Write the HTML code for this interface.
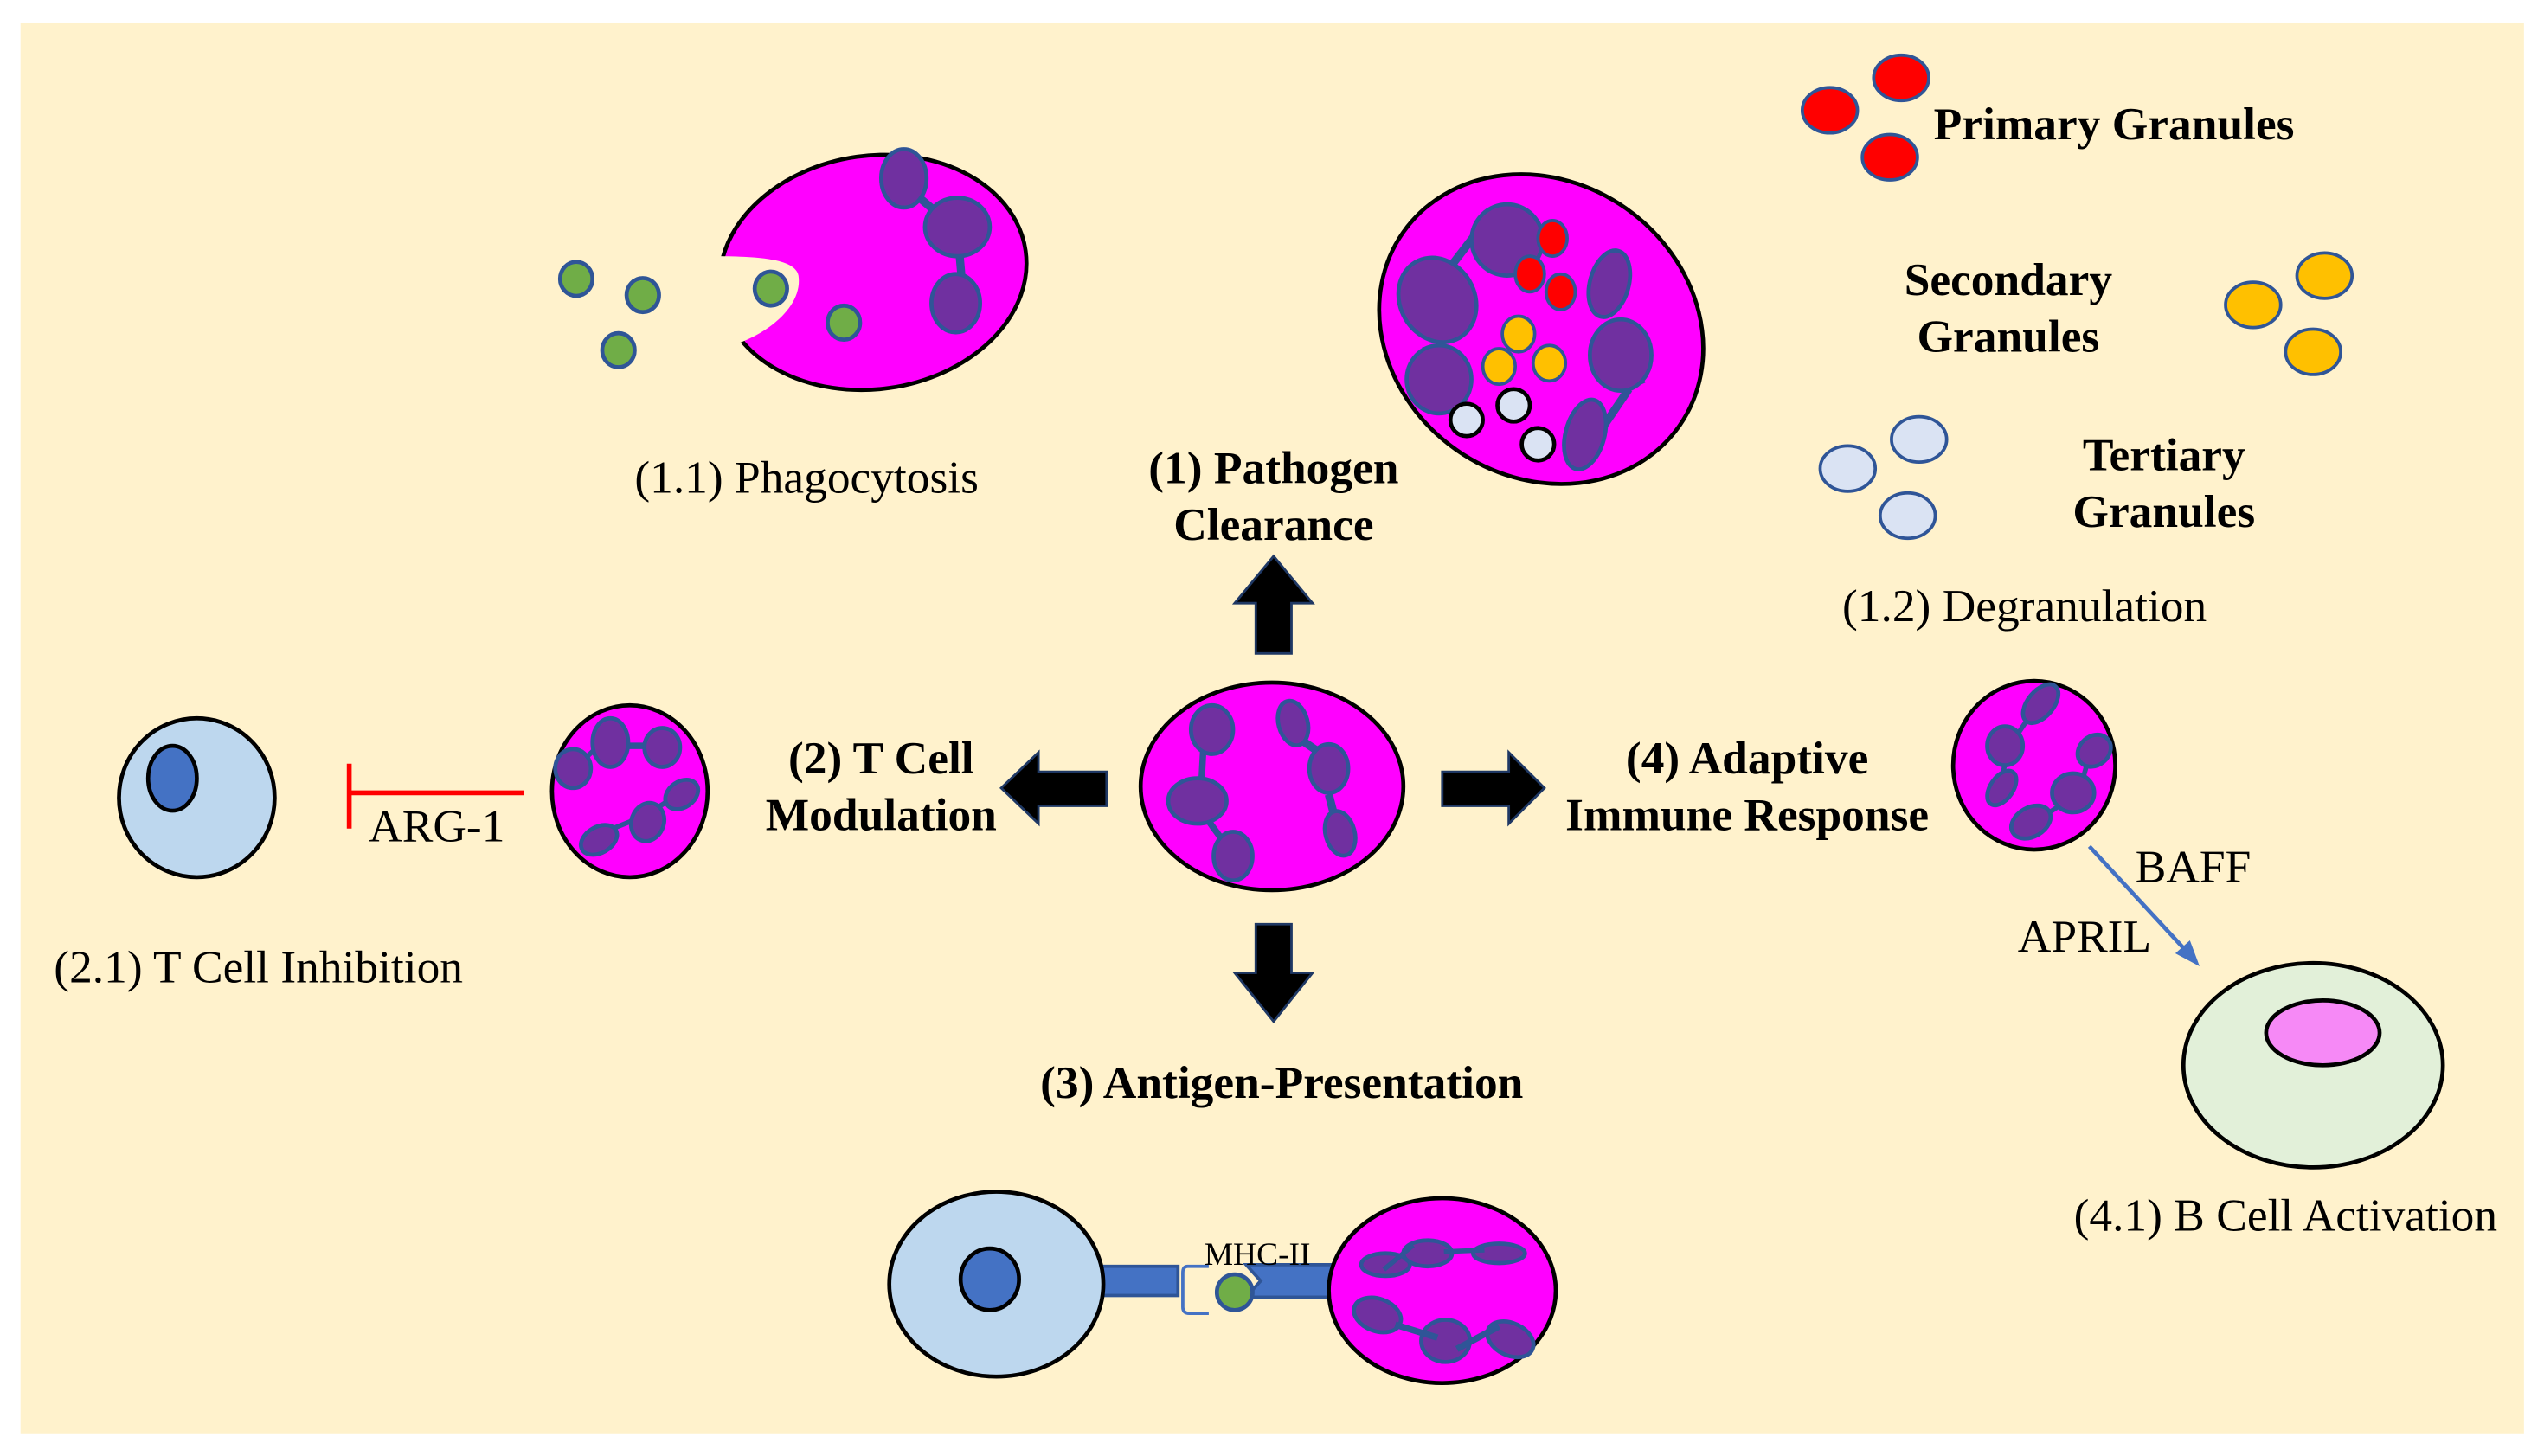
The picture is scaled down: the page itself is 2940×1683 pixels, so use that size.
<!DOCTYPE html>
<html><head><meta charset="utf-8"><style>
html,body{margin:0;padding:0;background:#fff;}
svg{display:block;}
text{font-family:"Liberation Serif",serif;fill:#000;}
.b{font-weight:bold;font-size:28.5px;}
.r{font-size:28.5px;}
</style></head><body>
<svg width="2940" height="1683" viewBox="0 0 1568 898" xmlns="http://www.w3.org/2000/svg">
<rect x="12.3" y="14.4" width="1543.7" height="869.6" fill="#FFF2CC"/>

<!-- Phagocytosis cell -->
<ellipse cx="538" cy="168" rx="95" ry="72" fill="#FF00FF" stroke="#000" stroke-width="2.5" transform="rotate(-8 538 168)"/>
<path d="M440,216 C470,210 495,190 492,170 C490,160 470,158 438,158 Z" fill="#FFF2CC"/>
<g stroke="#2F5597" stroke-width="2.5" fill="#7030A0">
<line x1="562" y1="118" x2="590" y2="142" stroke-width="5"/>
<line x1="590" y1="142" x2="594" y2="187" stroke-width="5"/>
<ellipse cx="557" cy="110" rx="14" ry="18"/>
<ellipse cx="590" cy="140" rx="20" ry="18"/>
<ellipse cx="589" cy="187" rx="15" ry="18"/>
</g>
<g fill="#70AD47" stroke="#2F5597" stroke-width="2.5">
<ellipse cx="355" cy="172" rx="10" ry="10.5"/>
<ellipse cx="396" cy="182" rx="10" ry="10.5"/>
<ellipse cx="381" cy="216" rx="10" ry="10.5"/>
<ellipse cx="475" cy="178" rx="10" ry="10.5"/>
<ellipse cx="520" cy="199" rx="10" ry="10.5"/>
</g>
<text class="r" x="497" y="304" text-anchor="middle">(1.1) Phagocytosis</text>

<!-- Degranulation cell -->
<ellipse cx="950" cy="203" rx="104" ry="91" fill="#FF00FF" stroke="#000" stroke-width="2.5" transform="rotate(35 950 203)"/>
<g stroke="#2F5597" stroke-width="2.5" fill="#7030A0">
<line x1="916" y1="136" x2="896" y2="162" stroke-width="5"/>
<line x1="879" y1="214" x2="882" y2="250" stroke-width="5"/>
<line x1="997" y1="204" x2="1012" y2="237" stroke-width="5"/>
<line x1="1004" y1="240" x2="987" y2="265" stroke-width="5"/>
<ellipse cx="929" cy="148" rx="22" ry="22"/>
<ellipse cx="886" cy="185" rx="23" ry="27" transform="rotate(-30 886 185)"/>
<ellipse cx="887" cy="234" rx="20" ry="21"/>
<ellipse cx="992" cy="175" rx="12" ry="21" transform="rotate(15 992 175)"/>
<ellipse cx="999" cy="219" rx="19" ry="22"/>
<ellipse cx="977" cy="268" rx="12" ry="22" transform="rotate(15 977 268)"/>
</g>
<g stroke="#2F5597" stroke-width="2" fill="#FF0000">
<ellipse cx="957" cy="147" rx="9" ry="11"/>
<ellipse cx="943" cy="169" rx="9" ry="11"/>
<ellipse cx="962" cy="180" rx="9" ry="11"/>
</g>
<g stroke="#2F5597" stroke-width="2" fill="#FFC000">
<ellipse cx="936" cy="206" rx="10" ry="11"/>
<ellipse cx="924" cy="226" rx="10" ry="11"/>
<ellipse cx="955" cy="224" rx="10" ry="11"/>
</g>
<g stroke="#000" stroke-width="2.5" fill="#DAE3F3">
<ellipse cx="904" cy="259" rx="10" ry="10"/>
<ellipse cx="933" cy="250" rx="10" ry="10"/>
<ellipse cx="948" cy="274" rx="10" ry="10"/>
</g>

<!-- Legend granules -->
<g stroke="#2F5597" stroke-width="2" fill="#FF0000">
<ellipse cx="1128" cy="68" rx="17" ry="14"/>
<ellipse cx="1172" cy="48" rx="17" ry="14"/>
<ellipse cx="1165" cy="97" rx="17" ry="14"/>
</g>
<g stroke="#2F5597" stroke-width="2" fill="#FFC000">
<ellipse cx="1389" cy="188" rx="17" ry="14"/>
<ellipse cx="1433" cy="170" rx="17" ry="14"/>
<ellipse cx="1426" cy="217" rx="17" ry="14"/>
</g>
<g stroke="#2F5597" stroke-width="2" fill="#DAE3F3">
<ellipse cx="1139" cy="289" rx="17" ry="14"/>
<ellipse cx="1183" cy="271" rx="17" ry="14"/>
<ellipse cx="1176" cy="318" rx="17" ry="14"/>
</g>
<text class="b" x="1192" y="86">Primary Granules</text>
<text class="b" x="1238" y="182" text-anchor="middle">Secondary</text>
<text class="b" x="1238" y="217" text-anchor="middle">Granules</text>
<text class="b" x="1334" y="290" text-anchor="middle">Tertiary</text>
<text class="b" x="1334" y="325" text-anchor="middle">Granules</text>
<text class="r" x="1248" y="383" text-anchor="middle">(1.2) Degranulation</text>

<text class="b" x="785" y="298" text-anchor="middle">(1) Pathogen</text>
<text class="b" x="785" y="333" text-anchor="middle">Clearance</text>

<!-- Arrows -->
<g fill="#000" stroke="#1F3864" stroke-width="1.5">
<path d="M774,403 L774,372 L761,372 L785,343 L809,372 L796,372 L796,403 Z"/>
<path d="M774,570 L774,600 L761,600 L785,630 L809,600 L796,600 L796,570 Z"/>
<path d="M682,476 L640,476 L640,464 L617,486 L640,508 L640,497 L682,497 Z"/>
<path d="M889,476 L930,476 L930,464 L952,486 L930,508 L930,497 L889,497 Z"/>
</g>

<!-- Central cell -->
<ellipse cx="784" cy="485" rx="81" ry="64" fill="#FF00FF" stroke="#000" stroke-width="2.5"/>
<g stroke="#2F5597" stroke-width="2.5" fill="#7030A0">
<line x1="742" y1="455" x2="740" y2="492" stroke-width="4"/>
<line x1="738" y1="497" x2="760" y2="527" stroke-width="4"/>
<line x1="800" y1="455" x2="822" y2="470" stroke-width="5"/>
<line x1="819" y1="490" x2="826" y2="517" stroke-width="5"/>
<ellipse cx="747" cy="450" rx="13" ry="15"/>
<ellipse cx="738" cy="494" rx="18" ry="14"/>
<ellipse cx="760" cy="528" rx="12" ry="15"/>
<ellipse cx="797" cy="446" rx="9" ry="14" transform="rotate(-15 797 446)"/>
<ellipse cx="819" cy="474" rx="12" ry="15"/>
<ellipse cx="826" cy="514" rx="9" ry="14" transform="rotate(-15 826 514)"/>
</g>

<!-- T cell modulation -->
<text class="b" x="543" y="477" text-anchor="middle">(2) T Cell</text>
<text class="b" x="543" y="512" text-anchor="middle">Modulation</text>
<ellipse cx="388" cy="488" rx="48" ry="53" fill="#FF00FF" stroke="#000" stroke-width="2.5"/>
<g stroke="#2F5597" stroke-width="2.5" fill="#7030A0">
<line x1="356" y1="472" x2="374" y2="455" stroke-width="3"/>
<line x1="380" y1="460" x2="406" y2="460" stroke-width="4"/>
<line x1="365" y1="516" x2="390" y2="506" stroke-width="3"/>
<line x1="394" y1="505" x2="418" y2="490" stroke-width="3"/>
<ellipse cx="376" cy="458" rx="11" ry="15"/>
<ellipse cx="408" cy="461" rx="11" ry="12"/>
<ellipse cx="353" cy="474" rx="11" ry="12"/>
<ellipse cx="420" cy="490" rx="11" ry="8" transform="rotate(-35 420 490)"/>
<ellipse cx="399" cy="507" rx="10" ry="12" transform="rotate(20 399 507)"/>
<ellipse cx="369" cy="518" rx="12" ry="8" transform="rotate(-30 369 518)"/>
</g>
<line x1="215" y1="489" x2="323" y2="489" stroke="#FF0000" stroke-width="3"/>
<line x1="215" y1="471" x2="215" y2="511" stroke="#FF0000" stroke-width="3"/>
<text class="r" x="269" y="519" text-anchor="middle">ARG-1</text>
<ellipse cx="121" cy="492" rx="48" ry="49" fill="#BDD7EE" stroke="#000" stroke-width="2.5"/>
<ellipse cx="106" cy="480" rx="15" ry="20" fill="#4472C4" stroke="#000" stroke-width="2.5"/>
<text class="r" x="159" y="606" text-anchor="middle">(2.1) T Cell Inhibition</text>

<!-- Antigen presentation -->
<text class="b" x="790" y="677" text-anchor="middle">(3) Antigen-Presentation</text>
<rect x="676" y="781" width="50" height="18" fill="#4472C4" stroke="#2F5597" stroke-width="2"/>
<path d="M745,781 L732,781 Q729,781 729,785 L729,806 Q729,810 733,810 L745,810" fill="#FFF2CC" stroke="#4472C4" stroke-width="2"/>
<path d="M768,780 L822,780 L822,800 L768,800 L777,790 Z" fill="#4472C4" stroke="#2F5597" stroke-width="2"/>
<ellipse cx="761" cy="797" rx="11" ry="11" fill="#70AD47" stroke="#2F5597" stroke-width="2.5"/>
<ellipse cx="614" cy="792" rx="66" ry="57" fill="#BDD7EE" stroke="#000" stroke-width="2.5"/>
<ellipse cx="610" cy="789" rx="18" ry="19" fill="#4472C4" stroke="#000" stroke-width="2.5"/>
<text x="775" y="780" text-anchor="middle" style="font-size:20px">MHC-II</text>
<ellipse cx="889" cy="796" rx="70" ry="57" fill="#FF00FF" stroke="#000" stroke-width="2.5"/>
<g stroke="#2F5597" stroke-width="2.5" fill="#7030A0">
<ellipse cx="854" cy="780" rx="15" ry="7"/>
<ellipse cx="880" cy="773" rx="15" ry="8"/>
<ellipse cx="924" cy="773" rx="16" ry="6"/>
<ellipse cx="849" cy="811" rx="15" ry="10" transform="rotate(20 849 811)"/>
<ellipse cx="891" cy="827" rx="15" ry="13"/>
<ellipse cx="931" cy="826" rx="15" ry="10" transform="rotate(25 931 826)"/>
<line x1="853" y1="783" x2="871" y2="768" stroke-width="3"/>
<line x1="890" y1="772" x2="915" y2="771" stroke-width="3"/>
<line x1="860" y1="817" x2="886" y2="825" stroke-width="4"/>
<line x1="898" y1="832" x2="924" y2="818" stroke-width="4"/>
</g>

<!-- Adaptive -->
<text class="b" x="1077" y="477" text-anchor="middle">(4) Adaptive</text>
<text class="b" x="1077" y="512" text-anchor="middle">Immune Response</text>
<ellipse cx="1254" cy="472" rx="50" ry="52" fill="#FF00FF" stroke="#000" stroke-width="2.5"/>
<g stroke="#2F5597" stroke-width="2.5" fill="#7030A0">
<line x1="1241" y1="457" x2="1255" y2="436" stroke-width="3"/>
<line x1="1234" y1="480" x2="1238" y2="462" stroke-width="3"/>
<line x1="1256" y1="506" x2="1280" y2="490" stroke-width="3"/>
<line x1="1283" y1="484" x2="1288" y2="466" stroke-width="3"/>
<ellipse cx="1258" cy="434" rx="8" ry="14" transform="rotate(40 1258 434)"/>
<ellipse cx="1236" cy="460" rx="11" ry="12"/>
<ellipse cx="1234" cy="486" rx="7" ry="12" transform="rotate(35 1234 486)"/>
<ellipse cx="1291" cy="463" rx="11" ry="9" transform="rotate(-40 1291 463)"/>
<ellipse cx="1278" cy="489" rx="13" ry="12"/>
<ellipse cx="1252" cy="507" rx="13" ry="9" transform="rotate(-30 1252 507)"/>
</g>
<line x1="1288" y1="522" x2="1350" y2="589" stroke="#4472C4" stroke-width="2.5"/>
<path d="M1356,596 L1341,588 L1350,580 Z" fill="#4472C4"/>
<text class="r" x="1352" y="544" text-anchor="middle">BAFF</text>
<text class="r" x="1285" y="587" text-anchor="middle">APRIL</text>
<ellipse cx="1426" cy="657" rx="80" ry="63" fill="#E2F0D9" stroke="#000" stroke-width="2.5"/>
<ellipse cx="1432" cy="637" rx="35" ry="20" fill="#F689F6" stroke="#000" stroke-width="2.5"/>
<text class="r" x="1409" y="759" text-anchor="middle">(4.1) B Cell Activation</text>
</svg>
</body></html>
